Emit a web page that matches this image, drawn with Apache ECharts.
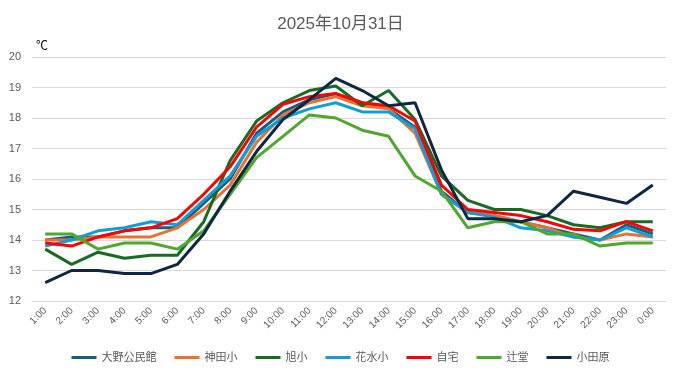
<!DOCTYPE html>
<html>
<head>
<meta charset="utf-8">
<script src="https://cdn.jsdelivr.net/npm/echarts@6/dist/echarts.min.js"></script>
<style>html,body{margin:0;padding:0;background:#fff;}#c{width:681px;height:378px;}</style>
</head>
<body>
<div id="c"></div>
<script>
const categories = ['1:00','2:00','3:00','4:00','5:00','6:00','7:00','8:00','9:00','10:00','11:00','12:00','13:00','14:00','15:00','16:00','17:00','18:00','19:00','20:00','21:00','22:00','23:00','0:00'];
const ono     = [14.0,14.1,14.1,14.3,14.4,14.4,15.2,16.0,17.5,18.2,18.6,18.8,18.5,18.3,17.7,15.6,14.9,14.8,14.6,14.4,14.2,14.0,14.5,14.2];
const kanda   = [14.0,14.0,14.1,14.1,14.1,14.4,15.0,15.8,17.2,18.1,18.5,18.7,18.4,18.3,17.5,15.5,14.9,14.8,14.6,14.4,14.1,14.0,14.2,14.1];
const asahi   = [13.7,13.2,13.6,13.4,13.5,13.5,14.6,16.6,17.9,18.5,18.9,19.05,18.4,18.9,17.95,16.1,15.3,15.0,15.0,14.8,14.5,14.4,14.6,14.6];
const hanamizu= [13.8,14.0,14.3,14.4,14.6,14.5,15.3,16.1,17.4,18.0,18.3,18.5,18.2,18.2,17.65,15.5,14.9,14.75,14.4,14.3,14.1,14.0,14.4,14.1];
const jitaku  = [13.9,13.8,14.1,14.3,14.4,14.7,15.5,16.4,17.7,18.45,18.7,18.8,18.5,18.4,17.9,15.8,15.0,14.9,14.8,14.6,14.35,14.3,14.6,14.3];
const tsujido = [14.2,14.2,13.7,13.9,13.9,13.7,14.3,15.5,16.7,17.4,18.1,18.0,17.6,17.4,16.1,15.6,14.4,14.6,14.6,14.2,14.2,13.8,13.9,13.9];
const odawara = [12.6,13.0,13.0,12.9,12.9,13.2,14.2,15.6,16.9,17.95,18.6,19.3,18.9,18.4,18.5,16.3,14.7,14.7,14.6,14.8,15.6,15.4,15.2,15.8];
const yTicks = {min: 12, max: 20, interval: 1};

const names = ['大野公民館','神田小','旭小','花水小','自宅','辻堂','小田原'];
const datas = [ono,kanda,asahi,hanamizu,jitaku,tsujido,odawara];
const colors = ['#156082','#E97132','#196B24','#0F9ED5','#FF0000','#4EA72E','#0E2841'];

const chart = echarts.init(document.getElementById('c'), null, {renderer:'canvas'});
const font = '"Liberation Sans","Noto Sans CJK JP",sans-serif';
chart.setOption({
  animation: false,
  backgroundColor: '#fff',
  color: colors,
  title: {
    text: '2025年10月31日', left: 'center', top: 11,
    textStyle: {color: '#595959', fontSize: 17, fontWeight: 'normal', fontFamily: font}
  },
  grid: {left: 32, right: 15, top: 57, bottom: 77, containLabel: false},
  legend: {
    bottom: 10, left: 'center', icon: 'rect', itemWidth: 25, itemHeight: 3, itemGap: 18,
    textStyle: {color: '#595959', fontSize: 11, fontFamily: font},
    data: names
  },
  xAxis: {
    type: 'category', data: categories, boundaryGap: true,
    axisLine: {lineStyle: {color: '#D9D9D9'}},
    axisTick: {show: false},
    axisLabel: {rotate: 45, color: '#595959', fontSize: 10, fontFamily: font, interval: 0, margin: 8}
  },
  yAxis: {
    type: 'value', min: yTicks.min, max: yTicks.max, interval: yTicks.interval,
    name: '℃', nameLocation: 'end', nameGap: 4,
    nameTextStyle: {color: '#000', fontSize: 12, fontFamily: font, align: 'left', padding: [0,0,0,4]},
    axisLine: {show: false}, axisTick: {show: false},
    axisLabel: {color: '#595959', fontSize: 11, fontFamily: font, margin: 11},
    splitLine: {lineStyle: {color: '#D9D9D9', width: 1}}
  },
  series: names.map((n, i) => ({
    name: n, type: 'line', data: datas[i], symbol: 'none',
    lineStyle: {width: 3, color: colors[i]}, itemStyle: {color: colors[i]}
  }))
});
</script>
</body>
</html>
